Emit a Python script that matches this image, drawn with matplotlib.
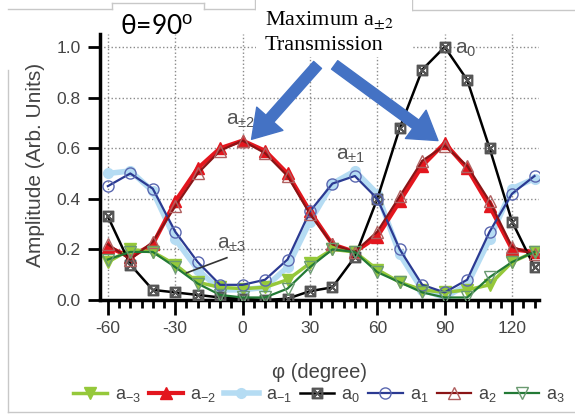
import numpy as np
import matplotlib

matplotlib.use("Agg")
import matplotlib.pyplot as plt
from matplotlib.lines import Line2D
from matplotlib.patches import Rectangle

plt.rcParams["font.family"] = ["Liberation Sans", "DejaVu Sans"]
plt.rcParams["mathtext.fontset"] = "custom"
plt.rcParams["mathtext.rm"] = "Liberation Sans"
plt.rcParams["mathtext.it"] = "Liberation Sans"
plt.rcParams["axes.unicode_minus"] = False

# %% data (phi in degrees)
phi = [-60, -50, -40, -30, -20, -10, 0, 10, 20, 30, 40, 50, 60, 70, 80, 90, 100, 110, 120, 130]

a_m3 = [0.15, 0.20, 0.19, 0.14, 0.07, 0.05, 0.045, 0.05, 0.08, 0.145, 0.20, 0.19, 0.12, 0.07, 0.04, 0.03, 0.04, 0.06, 0.15, 0.19]
a_m2 = [0.21, 0.17, 0.22, 0.39, 0.52, 0.60, 0.63, 0.59, 0.50, 0.35, 0.22, 0.19, 0.25, 0.39, 0.53, 0.62, 0.52, 0.37, 0.20, 0.19]
a_m1 = [0.50, 0.51, 0.43, 0.24, 0.12, 0.04, 0.04, 0.05, 0.13, 0.31, 0.46, 0.51, 0.42, 0.18, 0.04, 0.01, 0.06, 0.24, 0.44, 0.48]
a_0 = [0.33, 0.14, 0.04, 0.03, 0.02, 0.01, 0.005, 0.0, 0.005, 0.035, 0.05, 0.17, 0.40, 0.68, 0.91, 1.0, 0.87, 0.60, 0.31, 0.13]
a_1 = [0.45, 0.50, 0.44, 0.27, 0.15, 0.06, 0.06, 0.08, 0.16, 0.35, 0.46, 0.49, 0.40, 0.20, 0.06, 0.03, 0.08, 0.27, 0.42, 0.49]
a_2 = [0.22, 0.16, 0.23, 0.37, 0.50, 0.59, 0.63, 0.58, 0.49, 0.34, 0.22, 0.19, 0.27, 0.41, 0.55, 0.61, 0.53, 0.39, 0.21, 0.18]
a_3 = [0.16, 0.19, 0.19, 0.13, 0.065, 0.02, 0.01, 0.01, 0.045, 0.13, 0.20, 0.19, 0.11, 0.07, 0.03, 0.01, 0.01, 0.09, 0.15, 0.19]

W, H = 575, 415


def fx(x):
    return x / W


def fy(y):
    return 1 - y / H


# %%
fig = plt.figure(figsize=(W / 100, H / 100), dpi=100)
ax = fig.add_axes([fx(100), fy(300), fx(439), 265.7 / H])

# thick light curves first, dark thin ones on top
ax.plot(phi, a_m1, color="#b5dcf3", lw=4, marker="o", ms=7, mfc="#b5dcf3", mec="#b5dcf3", label="a$_{-1}$", zorder=2)
ax.plot(phi, a_m2, color="#e3161e", lw=3, marker="^", ms=8, mfc="#e3161e", mec="#e3161e", label="a$_{-2}$", zorder=2)
ax.plot(phi, a_m3, color="#95c83a", lw=2.5, marker="v", ms=8, mfc="#95c83a", mec="#95c83a", label="a$_{-3}$", zorder=2)
ax.plot(phi, a_0, color="black", lw=1.8, marker="$\\boxtimes$", ms=7.5, mec="#555555", label="a$_0$", zorder=3)
ax.plot(phi, a_1, color="#2b3a92", lw=1.6, marker="o", ms=8, mfc="none", mec="#5a67b0", label="a$_1$", zorder=3)
ax.plot(phi, a_2, color="#8a1416", lw=1.6, marker="^", ms=8, mfc="none", mec="#b06060", label="a$_2$", zorder=3)
ax.plot(phi, a_3, color="#237a36", lw=1.6, marker="v", ms=8, mfc="none", mec="#6a9a70", label="a$_3$", zorder=3)

ax.set_xlim(-63.5, 132)
ax.set_ylim(0, 1.05)
ax.set_xticks([-60, -30, 0, 30, 60, 90, 120])
ax.set_xticks(np.arange(-60, 131, 5), minor=True)
ax.set_yticks([0.0, 0.2, 0.4, 0.6, 0.8, 1.0])
ax.set_yticklabels(["0.0", "0.2", "0.4", "0.6", "0.8", "1.0"])
ax.tick_params(axis="both", which="major", direction="out", width=2, labelsize=12.5, labelcolor="#444444")
ax.tick_params(axis="x", which="major", length=11, pad=4)
ax.tick_params(axis="x", which="minor", length=6, width=2)
ax.tick_params(axis="y", which="major", length=9, pad=5)
for side in ["top", "right"]:
    ax.spines[side].set_visible(False)
for side in ["left", "bottom"]:
    ax.spines[side].set_linewidth(2.5)
ax.grid(True, which="major", linestyle=":", color="#8a8a8a", lw=1)
ax.set_axisbelow(True)

ax.set_xlabel("\u03c6 (degree)", fontsize=14.5, color="#444444")
ax.xaxis.set_label_coords(0.5, -0.237)
ax.set_ylabel("Amplitude (Arb. Units)", fontsize=15, color="#444444")
ax.yaxis.set_label_coords(-0.125, 0.51)

# curve labels
lab_kw = dict(fontsize=15, color="#555555", va="center")
ax.text(-1, 0.71, "a$_{\\pm2}$", ha="center", **lab_kw)
ax.text(94.5, 0.99, "a$_0$", ha="left", clip_on=False, **lab_kw)
ax.text(48, 0.57, "a$_{\\pm1}$", ha="center", **lab_kw)
ax.text(-5, 0.22, "a$_{\\pm3}$", ha="center", **lab_kw)
ax.plot([-7, -25], [0.167, 0.107], color="#333333", lw=1.2, zorder=4)

# legend along the bottom
order = ["a$_{-3}$", "a$_{-2}$", "a$_{-1}$", "a$_0$", "a$_1$", "a$_2$", "a$_3$"]
handles, labels = ax.get_legend_handles_labels()
hmap = dict(zip(labels, handles))
fig.legend(
    [hmap[k] for k in order],
    order,
    loc="center left",
    bbox_to_anchor=(fx(64), fy(395)),
    ncol=7,
    frameon=False,
    fontsize=13,
    labelcolor="#444444",
    handlelength=1.9,
    handletextpad=0.4,
    columnspacing=0.45,
    borderpad=0,
)

# screenshot frame remnants
frame = [
    ([8, 8], [70, 412]),
    ([8, 575], [412, 412]),
    ([8, 112], [9, 9]),
    ([112, 112], [3, 9]),
    ([112, 204], [3, 3]),
    ([204, 204], [3, 9]),
    ([204, 255], [9, 9]),
    ([255, 255], [0, 9]),
    ([412, 412], [0, 10]),
    ([412, 575], [10, 10]),
]
for xs, ys in frame:
    fig.add_artist(Line2D([fx(v) for v in xs], [fy(v) for v in ys], color="#c8c8c8", lw=1))

# white box behind the annotation text
fig.add_artist(Rectangle((fx(256), fy(57)), fx(156), 57 / H, facecolor="white", edgecolor="none", zorder=2.5))

fig.text(fx(157), fy(26), "\u03b8=90$^{\\mathrm{o}}$", fontsize=19, family=["Lato", "DejaVu Sans"],
         ha="center", va="center", color="black")
fig.text(fx(265), fy(20), "Maximum a$_{\\pm 2}$", fontsize=16, family="Liberation Serif", ha="left", va="center",
         math_fontfamily="stix")
fig.text(fx(265), fy(46), "Transmission", fontsize=16, family="Liberation Serif", ha="left", va="center")

# blue arrows
arrow_kw = dict(arrowstyle="simple,head_length=1.1,head_width=1.4,tail_width=0.42", color="#4472c4",
                mutation_scale=18, shrinkA=0, shrinkB=0)
ax.annotate("", xy=(4, 0.635), xytext=(33.4, 0.929), arrowprops=arrow_kw, annotation_clip=False)
ax.annotate("", xy=(87, 0.63), xytext=(41, 0.929), arrowprops=arrow_kw, annotation_clip=False)

fig.savefig("out.png", dpi=100)
